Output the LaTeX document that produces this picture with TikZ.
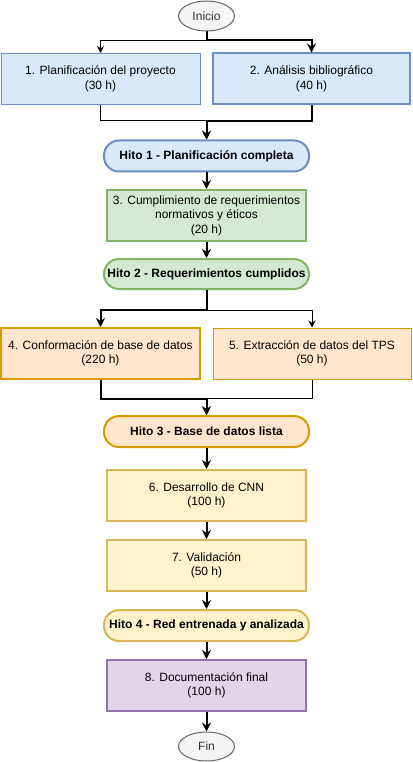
\documentclass[tikz,border=0pt]{standalone}
\usepackage{fontspec}
\setmainfont{Liberation Sans}
\usepackage{tikz}
\usetikzlibrary{arrows.meta,shapes.geometric}
\definecolor{bluefill}{HTML}{DAE8FC}\definecolor{bluedraw}{HTML}{6C8EBF}
\definecolor{greenfill}{HTML}{D5E8D4}\definecolor{greendraw}{HTML}{82B366}
\definecolor{orangefill}{HTML}{FFE6CC}\definecolor{orangedraw}{HTML}{D79B00}
\definecolor{yellowfill}{HTML}{FFF2CC}\definecolor{yellowdraw}{HTML}{D6B656}
\definecolor{purplefill}{HTML}{E1D5E7}\definecolor{purpledraw}{HTML}{9673A6}
\definecolor{greyfill}{HTML}{F5F5F5}\definecolor{greydraw}{HTML}{666666}
\definecolor{greytext}{HTML}{333333}
\tikzset{
	tarea/.style={draw, rectangle, align=center, minimum width=199, minimum height=51, line width=1pt, font=\fontsize{12}{14.5}\selectfont},
	hito/.style={draw, rectangle, rounded corners=15, align=center, minimum width=205, minimum height=31, line width=2pt, font=\fontsize{12}{14.5}\selectfont\bfseries},
	terminal/.style={draw=greydraw, fill=greyfill, ellipse, minimum width=56, minimum height=30, inner sep=0pt, line width=1pt, text=greytext, font=\fontsize{12}{14.5}\selectfont},
	thinline/.style={line width=1pt, -{Stealth[length=7pt,width=7pt]}},
	thickline/.style={line width=2pt, -{Stealth[length=9pt,width=9pt]}},
}
\begin{document}
\begin{tikzpicture}[x=1pt, y=-1pt]
			%%%%% START %%%%%
			\useasboundingbox (0, 0) rectangle (412, 762);
			
			\node[terminal] (inicio) at (206.5, 16) {Inicio};
			\node[tarea, fill=bluefill, draw=bluedraw] (p1) at (100.5, 79) {1. Planificación del proyecto\\(30 h)};
			\node[tarea, fill=bluefill, draw=bluedraw, line width=2pt, minimum width=197] (p2) at (311.5, 79) {2. Análisis bibliográfico\\(40 h)};
			\node[hito, fill=bluefill, draw=bluedraw] (h1) at (206.5, 156) {Hito 1 - Planificación completa};
			
			\node[tarea, fill=greenfill, draw=greendraw, line width=2pt] (p3) at (206.5, 215.5) {3. Cumplimiento de requerimientos\\normativos y éticos\\(20 h)};
			\node[hito, fill=greenfill, draw=greendraw, minimum height=30] (h2) at (206.5, 274) {Hito 2 - Requerimientos cumplidos};
			
			\node[tarea, fill=orangefill, draw=orangedraw, line width=2pt] (p4) at (100.5, 353.5) {4. Conformación de base de datos\\(220 h)};
			\node[tarea, fill=orangefill, draw=orangedraw, minimum width=198] (p5) at (312, 353.5) {5. Extracción de datos del TPS\\(50 h)};
			\node[hito, fill=orangefill, draw=orangedraw] (h3) at (206.5, 431.5) {Hito 3 - Base de datos lista};
			
			\node[tarea, fill=yellowfill, draw=yellowdraw, line width=2pt] (p6) at (206.5, 495.5) {6. Desarrollo de CNN\\(100 h)};
			\node[tarea, fill=yellowfill, draw=yellowdraw, line width=2pt] (p7) at (206.5, 565.5) {7. Validación\\(50 h)};
			\node[hito, fill=yellowfill, draw=yellowdraw] (h4) at (206.5, 625.5) {Hito 4 - Red entrenada y analizada};
			
			\node[tarea, fill=purplefill, draw=purpledraw, line width=2pt] (p8) at (206.5, 685.5) {8. Documentación final\\(100 h)};
			\node[terminal, minimum height=29] (fin) at (206.5, 746.5) {Fin};
			
			\draw[thinline] (inicio.south) -- ++(0, 9) -| (p1);
			\draw[thickline] (inicio.south) -- ++(0, 9) -| (p2);
			\draw[thinline] (p1.south) -- ++(0, 16) -| (h1);
			\draw[thickline] (p2.south) -- ++(0, 16) -| (h1);
			\draw[thickline] (h1) -- (p3);
			\draw[thickline] (p3) -- (h2);
			
			\draw[thickline] (h2.south) -- ++(0, 20) -| (p4);
			\draw[thinline] (h2.south) -- ++(0, 20) -| (p5);
			\draw[thickline] (p4.south) -- ++(0, 19) -| (h3);
			\draw[thinline] (p5.south) -- ++(0, 19) -| (h3);
			
			\draw[thickline] (h3) -- (p6);
			\draw[thickline] (p6) -- (p7);
			\draw[thickline] (p7) -- (h4);
			\draw[thickline] (h4) -- (p8);
			\draw[thickline] (p8) -- (fin);
			%%%%% END %%%%%
		\end{tikzpicture}
\end{document}
